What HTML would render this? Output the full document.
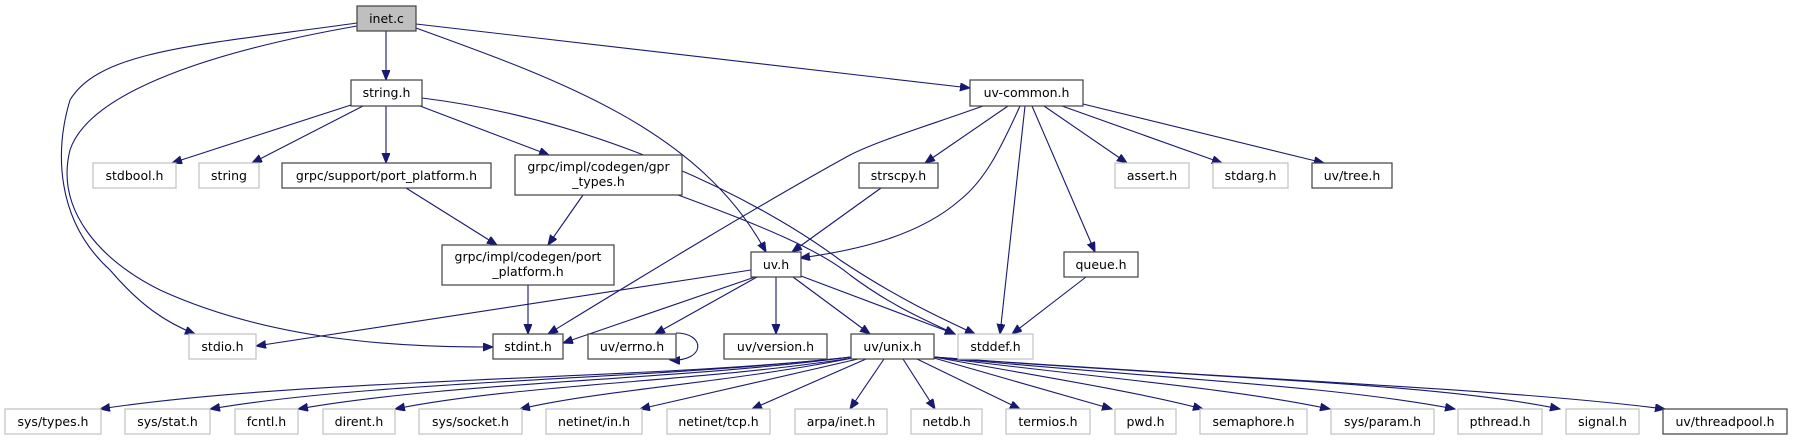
<!DOCTYPE html>
<html><head><meta charset="utf-8"><style>
html,body{margin:0;padding:0;background:#fff;}
svg{display:block;}
text{font-family:"DejaVu Sans","Liberation Sans",sans-serif;font-size:12.5px;fill:#000;text-anchor:middle;}
.b{fill:#fff;stroke:#404040;stroke-width:1.2;}
.g{fill:#fff;stroke:#c0c0c0;stroke-width:1.2;}
.e{fill:none;stroke:#191970;stroke-width:1.1;marker-end:url(#a);}
</style></head><body>
<svg width="1793" height="440" viewBox="0 0 1793 440" xmlns="http://www.w3.org/2000/svg">
<defs><marker id="a" markerUnits="userSpaceOnUse" markerWidth="12" markerHeight="10" refX="10" refY="4" orient="auto"><path d="M0,0 L10,4 L0,8 z" fill="#191970" stroke="#191970"/></marker></defs>
<!-- edges -->
<path class="e" d="M386,31 L386,80"/>
<path class="e" d="M416,24 L970,88"/>
<path class="e" d="M416,28 C560,80 700,130 766,252"/>
<path class="e" d="M357,23 C200,45 100,50 70,100 C55,150 55,220 110,270 C140,305 165,322 195,334"/>
<path class="e" d="M357,26 C220,50 90,90 70,150 C55,210 100,260 160,290 C280,345 420,347 493,347"/>
<path class="e" d="M351,105 L172,163"/>
<path class="e" d="M363,106 L252,163"/>
<path class="e" d="M386,106 L386,163"/>
<path class="e" d="M420,106 L549,155"/>
<path class="e" d="M422,98 C600,120 760,200 840,260 C900,300 945,320 975,334"/>
<path class="e" d="M406,188 L497,245"/>
<path class="e" d="M583,195 L548,245"/>
<path class="e" d="M678,195 C760,225 820,250 850,275 C890,305 925,320 955,334"/>
<path class="e" d="M528,285 L528,334"/>
<path class="e" d="M751,270 L256,346"/>
<path class="e" d="M755,277 L563,343"/>
<path class="e" d="M757,277 L655,334"/>
<path class="e" d="M776,277 L776,334"/>
<path class="e" d="M793,277 L870,334"/>
<path class="e" d="M801,276 L955,334"/>
<path class="e" d="M676,333 C706,333 706,362 670,360"/>
<path class="e" d="M881,188 L792,252"/>
<path class="e" d="M983,106 C930,125 880,140 850,155 C750,210 620,290 548,334"/>
<path class="e" d="M1008,106 L925,163"/>
<path class="e" d="M1020,106 C1000,150 985,180 960,200 C920,235 860,250 800,258"/>
<path class="e" d="M1025,106 L1000,334"/>
<path class="e" d="M1032,106 L1095,252"/>
<path class="e" d="M1044,106 L1127,163"/>
<path class="e" d="M1062,106 L1222,163"/>
<path class="e" d="M1083,104 L1324,163"/>
<path class="e" d="M1086,277 L1012,334"/>
<!-- uv/unix fan -->
<path class="e" d="M851,357 C650,380 300,378 100,409"/>
<path class="e" d="M851,357 C650,380 380,380 210,409"/>
<path class="e" d="M851,357 C680,380 450,382 298,409"/>
<path class="e" d="M852,358 C700,382 520,384 395,409"/>
<path class="e" d="M853,358 C720,384 600,390 520,409"/>
<path class="e" d="M858,359 L640,409"/>
<path class="e" d="M866,359 L752,409"/>
<path class="e" d="M884,359 L850,409"/>
<path class="e" d="M903,359 L935,409"/>
<path class="e" d="M917,359 L1020,409"/>
<path class="e" d="M934,358 L1112,409"/>
<path class="e" d="M934,357 C1030,375 1130,390 1203,409"/>
<path class="e" d="M934,357 C1100,378 1230,388 1330,409"/>
<path class="e" d="M934,357 C1150,378 1330,385 1455,409"/>
<path class="e" d="M934,357 C1200,378 1430,382 1560,409"/>
<path class="e" d="M934,357 C1250,380 1500,388 1665,409"/>
<!-- nodes -->
<rect x="357" y="6" width="59" height="25" fill="#bfbfbf" stroke="#404040" stroke-width="1.2"/><text x="386.5" y="23">inet.c</text>
<rect class="b" x="351" y="80" width="71" height="26"/><text x="386.5" y="97">string.h</text>
<rect class="g" x="93" y="163" width="83" height="25"/><text x="134.5" y="180">stdbool.h</text>
<rect class="g" x="199" y="163" width="60" height="25"/><text x="229" y="180">string</text>
<rect class="b" x="282" y="163" width="209" height="25"/><text x="386.5" y="180">grpc/support/port_platform.h</text>
<rect class="b" x="515" y="155" width="167" height="40"/><text x="598.5" y="171">grpc/impl/codegen/gpr</text><text x="598.5" y="186">_types.h</text>
<rect class="b" x="442" y="245" width="172" height="40"/><text x="528" y="261">grpc/impl/codegen/port</text><text x="528" y="276">_platform.h</text>
<rect class="g" x="189" y="334" width="67" height="25"/><text x="222.5" y="351">stdio.h</text>
<rect class="b" x="493" y="334" width="70" height="25"/><text x="528" y="351">stdint.h</text>
<rect class="b" x="588" y="334" width="88" height="25"/><text x="632" y="351">uv/errno.h</text>
<rect class="b" x="724" y="334" width="103" height="25"/><text x="775.5" y="351">uv/version.h</text>
<rect class="b" x="851" y="334" width="83" height="25"/><text x="892.5" y="351">uv/unix.h</text>
<rect class="g" x="958" y="334" width="75" height="25"/><text x="995.5" y="351">stddef.h</text>
<rect class="b" x="751" y="252" width="50" height="25"/><text x="776" y="269">uv.h</text>
<rect class="b" x="859" y="163" width="79" height="25"/><text x="898.5" y="180">strscpy.h</text>
<rect class="b" x="970" y="80" width="113" height="26"/><text x="1026.5" y="97">uv-common.h</text>
<rect class="b" x="1064" y="252" width="74" height="25"/><text x="1101" y="269">queue.h</text>
<rect class="g" x="1115" y="163" width="74" height="25"/><text x="1152" y="180">assert.h</text>
<rect class="g" x="1213" y="163" width="75" height="25"/><text x="1250.5" y="180">stdarg.h</text>
<rect class="b" x="1312" y="163" width="80" height="25"/><text x="1352" y="180">uv/tree.h</text>
<rect class="g" x="5" y="409" width="96" height="25"/><text x="53" y="426">sys/types.h</text>
<rect class="g" x="125" y="409" width="85" height="25"/><text x="167.5" y="426">sys/stat.h</text>
<rect class="g" x="235" y="409" width="63" height="25"/><text x="266.5" y="426">fcntl.h</text>
<rect class="g" x="323" y="409" width="72" height="25"/><text x="359" y="426">dirent.h</text>
<rect class="g" x="419" y="409" width="103" height="25"/><text x="470.5" y="426">sys/socket.h</text>
<rect class="g" x="546" y="409" width="96" height="25"/><text x="594" y="426">netinet/in.h</text>
<rect class="g" x="667" y="409" width="103" height="25"/><text x="718.5" y="426">netinet/tcp.h</text>
<rect class="g" x="795" y="409" width="92" height="25"/><text x="841" y="426">arpa/inet.h</text>
<rect class="g" x="911" y="409" width="71" height="25"/><text x="946.5" y="426">netdb.h</text>
<rect class="g" x="1006" y="409" width="84" height="25"/><text x="1048" y="426">termios.h</text>
<rect class="g" x="1115" y="409" width="61" height="25"/><text x="1145.5" y="426">pwd.h</text>
<rect class="g" x="1200" y="409" width="107" height="25"/><text x="1253.5" y="426">semaphore.h</text>
<rect class="g" x="1331" y="409" width="103" height="25"/><text x="1382.5" y="426">sys/param.h</text>
<rect class="g" x="1458" y="409" width="84" height="25"/><text x="1500" y="426">pthread.h</text>
<rect class="g" x="1566" y="409" width="73" height="25"/><text x="1602.5" y="426">signal.h</text>
<rect class="b" x="1663" y="409" width="124" height="25"/><text x="1725" y="426">uv/threadpool.h</text>
</svg>
</body></html>
